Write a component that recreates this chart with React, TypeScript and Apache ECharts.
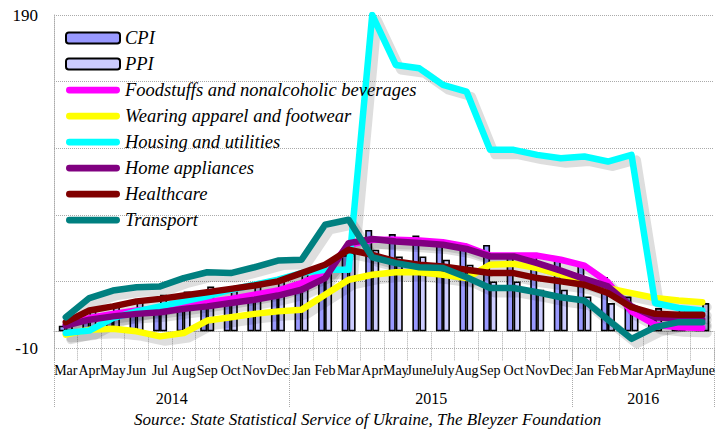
import React, { useEffect, useRef } from 'react';
import * as echarts from 'echarts';

// ---- Data ----
const months = ['Mar', 'Apr', 'May', 'Jun', 'Jul', 'Aug', 'Sep', 'Oct', 'Nov', 'Dec',
  'Jan', 'Feb', 'Mar', 'Apr', 'May', 'June', 'July', 'Aug', 'Sep', 'Oct', 'Nov', 'Dec',
  'Jan', 'Feb', 'Mar', 'Apr', 'May', 'June'];
const years = ['2014', '2015', '2016'];
const monthsPerYear = [10, 12, 6];

const cpi = [3.4, 6.9, 10.9, 12.0, 12.6, 14.2, 17.5, 19.8, 21.2, 24.9,
  28.5, 34.5, 45.8, 60.9, 58.4, 57.5, 55.3, 52.8, 51.9, 46.4, 45.8, 43.3,
  40.3, 32.7, 20.9, 9.8, 7.5, 6.9];
const ppi = [9, 14, 16, 19, 22, 24, 27, 27, 28, 32,
  35, 42, 47, 49, 45, 45, 43, 40, 30, 30, 25, 25,
  21, 17, 12, 14, 15, 17];

const foodstuffs = [4, 8, 10.5, 12.5, 13.5, 15.5, 17.5, 19.5, 22, 24.5,
  29, 35, 52, 55, 55, 54.5, 53.5, 51, 45.5, 45.5, 45.5, 43,
  39.5, 29.5, 12, 4, 2.5, 2];
const apparel = [-2, 1, 1.5, 0, -3, -1, 6.5, 8.5, 10.5, 12,
  13, 22, 31, 34, 35.5, 35.5, 34, 32, 40, 40.5, 38, 34,
  30, 26, 23, 20, 18.5, 17.5];
const housing = [-1, 0.5, 8, 12, 15, 18, 21, 25, 28, 31,
  35, 37, 37, 190, 160, 158, 148, 144, 109, 109, 106, 104,
  105, 102, 106, 17, 14, 12.5];
const appliances = [3.5, 7, 9, 10.5, 11.5, 13.5, 15, 17, 19, 21.5,
  25, 32, 53, 55.5, 54, 53, 52, 49.5, 45, 45, 41, 36.5,
  31.5, 27, 15, 8.5, 7.5, 7];
const healthcare = [5.5, 12.5, 15, 18, 19.5, 21.5, 23.5, 25.5, 27.5, 30,
  35, 40, 49, 46, 42, 40, 39, 37, 35, 35, 32, 30,
  28, 23, 14.5, 10.5, 10, 10];
const transport = [8.5, 20, 24.5, 26.5, 27, 32, 35.5, 35, 38.5, 42.5,
  43, 64, 67, 44.5, 41, 38.5, 38, 32.5, 26, 26, 23.5, 20.5,
  18.5, 7, -4.5, 2.5, 5.5, 5.5];

const yTickLabels = [-10, 190];

const lineSeriesDefs = [
  { name: 'Foodstuffs and nonalcoholic beverages', data: foodstuffs, color: '#ff00ff' },
  { name: 'Wearing apparel and footwear', data: apparel, color: '#ffff00' },
  { name: 'Housing and utilities', data: housing, color: '#00ffff' },
  { name: 'Home appliances', data: appliances, color: '#800080' },
  { name: 'Healthcare', data: healthcare, color: '#800000' },
  { name: 'Transport', data: transport, color: '#008080' },
];

const SERIF = '"Liberation Serif", "Times New Roman", serif';
const LINE_ICON = 'path://M3.5,0 L52.5,0 A3.5,3.5 0 0 1 52.5,7 L3.5,7 A3.5,3.5 0 0 1 3.5,0 Z';

export default function App() {
  const ref = useRef<HTMLDivElement>(null);

  useEffect(() => {
    if (!ref.current) return;
    const chart = echarts.init(ref.current, null, { renderer: 'svg' });

    // year boundaries and centers derived from month counts
    const yearBounds: number[] = [0];
    const yearCenters: number[] = [];
    monthsPerYear.forEach((n) => {
      const start = yearBounds[yearBounds.length - 1];
      yearCenters.push(start + n / 2);
      yearBounds.push(start + n);
    });
    const totalMonths = yearBounds[yearBounds.length - 1];

    const dotted = { color: '#aaaaaa', type: 'dotted' as const, width: 1 };

    const option: any = {
      animation: false,
      backgroundColor: '#ffffff',
      title: [
        {
          text: 'Source: State Statistical Service of Ukraine, The Bleyzer Foundation',
          left: 129,
          top: 406,
          textStyle: { fontFamily: SERIF, fontStyle: 'italic', fontWeight: 'normal', fontSize: 17, lineHeight: 17, color: '#000' },
        },
      ],
      grid: [
        { left: 54, right: 11, top: 15, bottom: 81 },
        // offset copy of the plot used for the drop shadows of the lines
        { left: 59, right: 6, top: 20, bottom: 76, show: false },
      ],
      legend: {
        orient: 'vertical',
        left: 65,
        top: 28,
        padding: 0,
        itemWidth: 54,
        itemHeight: 11,
        itemGap: 6,
        symbolKeepAspect: true,
        textStyle: { fontFamily: SERIF, fontStyle: 'italic', fontSize: 18.5, color: '#000', lineHeight: 20 },
        data: [
          { name: 'CPI', icon: 'roundRect' },
          { name: 'PPI', icon: 'roundRect' },
          ...lineSeriesDefs.map((s) => ({ name: s.name, icon: LINE_ICON })),
        ],
      },
      xAxis: [
        {
          type: 'category',
          data: months,
          boundaryGap: true,
          position: 'bottom',
          axisLine: { show: true, lineStyle: dotted },
          axisTick: { show: true, interval: 0, length: 30, lineStyle: dotted },
          axisLabel: { interval: 0, margin: 15, fontSize: 14, fontFamily: SERIF, color: '#000', hideOverlap: false },
          splitLine: { show: false },
        },
        {
          type: 'value',
          min: 0,
          max: totalMonths,
          position: 'bottom',
          axisLine: { show: false },
          splitLine: { show: false },
          axisTick: { show: true, customValues: yearBounds, length: 60, lineStyle: dotted },
          axisLabel: {
            customValues: yearCenters,
            formatter: (v: number) => {
              const i = yearCenters.indexOf(v);
              return i >= 0 ? years[i] : '';
            },
            margin: 42,
            fontSize: 16,
            fontFamily: SERIF,
            color: '#000',
          },
        },
        {
          type: 'category',
          data: months,
          boundaryGap: true,
          gridIndex: 1,
          show: false,
        },
      ],
      yAxis: [
        {
          type: 'value',
          min: -10,
          max: 190,
          interval: 40,
          axisLine: { show: true, lineStyle: dotted },
          axisTick: { show: false },
          splitLine: { show: true, lineStyle: dotted },
          axisLabel: {
            formatter: (v: number) => (yTickLabels.includes(v) ? String(v) : ''),
            fontSize: 17,
            fontFamily: SERIF,
            color: '#000',
            margin: 16,
          },
        },
        {
          type: 'value',
          min: -10,
          max: 190,
          interval: 40,
          gridIndex: 1,
          show: false,
          splitLine: { show: false },
        },
      ],
      series: [
        {
          type: 'bar',
          name: 'CPI',
          data: cpi,
          barWidth: 7,
          barGap: '0%',
          itemStyle: { color: '#9999ff', borderColor: '#000', borderWidth: 1.6 },
        },
        {
          type: 'bar',
          name: 'PPI',
          data: ppi,
          barWidth: 7,
          barGap: '0%',
          itemStyle: { color: '#ccccff', borderColor: '#000', borderWidth: 1.6 },
        },
        ...lineSeriesDefs.map((s, i) => ({
          type: 'line',
          name: 'shadow-' + i,
          data: s.data,
          xAxisIndex: 2,
          yAxisIndex: 1,
          symbol: 'none',
          silent: true,
          lineStyle: { color: 'rgba(0,0,0,0.13)', width: 9, cap: 'round', join: 'round' },
        })),
        ...lineSeriesDefs.map((s) => ({
          type: 'line',
          name: s.name,
          data: s.data,
          symbol: 'none',
          itemStyle: { color: s.color },
          lineStyle: { color: s.color, width: 6.5, cap: 'round', join: 'round' },
        })),
      ],
    };

    chart.setOption(option);
    return () => chart.dispose();
  }, []);

  return (
    <div
      ref={ref}
      style={{ position: 'fixed', left: 0, top: 0, width: 725, height: 429, background: '#fff' }}
    />
  );
}
